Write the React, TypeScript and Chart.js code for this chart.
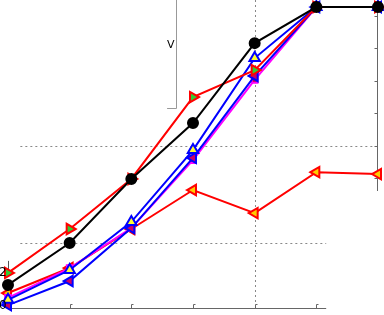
import React, { useEffect, useRef } from "react";
import { Chart, registerables } from "chart.js";

Chart.register(...registerables);

const categories = [0, 1, 2, 3, 4, 5, 6];
const blackSeries = [7.1, 20.0, 39.7, 56.9, 81.5, 92.6, 92.6];
const redGreenSeries = [10.8, 24.3, 39.7, 64.9, 73.2, 92.6, 92.6];
const redYellowSeries = [4.6, 12.3, 24.3, 36.3, 29.2, 41.8, 41.2];
const blueUpSeries = [2.5, 11.7, 26.5, 48.6, 76.9, 92.6, 92.6];
const magentaSeries = [3.1, 12.3, 24.6, 45.5, 70.2, 92.6, 92.6];
const blueLeftSeries = [0.9, 8.3, 24.6, 46.2, 71.4, 92.6, 92.6];
const rightTicks = [40, 50, 60, 70, 80, 90];
const bottomTicks = [1, 2, 3, 4, 5];
const hGrid = [
  { v: 20, to: 5.16 },
  { v: 50, to: 6 },
];
const leftLabels = [
  { text: "2", v: 10.8 },
  { text: "0", v: 0.6 },
];

const pts = (arr: number[]) => arr.map((y, i) => ({ x: categories[i], y }));

const decor = {
  id: "decor",
  beforeDatasetsDraw(chart: any) {
    const { ctx } = chart;
    const xs = chart.scales.x;
    const ys = chart.scales.y;
    const X = (v: number) => xs.getPixelForValue(v);
    const Y = (v: number) => ys.getPixelForValue(v);
    ctx.save();
    // dashed grid
    ctx.strokeStyle = "#888";
    ctx.lineWidth = 1;
    ctx.setLineDash([2, 3]);
    hGrid.forEach((g) => {
      ctx.beginPath();
      ctx.moveTo(X(0.2), Math.round(Y(g.v)) + 0.5);
      ctx.lineTo(X(g.to), Math.round(Y(g.v)) + 0.5);
      ctx.stroke();
    });
    ctx.beginPath();
    ctx.moveTo(Math.round(X(4)) + 0.5, 0);
    ctx.lineTo(Math.round(X(4)) + 0.5, Y(0));
    ctx.stroke();
    ctx.setLineDash([]);
    // bottom axis
    ctx.strokeStyle = "#666";
    const by = Math.round(Y(0)) + 0.5;
    ctx.beginPath();
    ctx.moveTo(X(0), by);
    ctx.lineTo(X(5.16), by);
    ctx.stroke();
    bottomTicks.forEach((t) => {
      const px = Math.round(X(t)) + 0.5;
      ctx.beginPath();
      ctx.moveTo(px, by);
      ctx.lineTo(px, by - 4);
      ctx.lineTo(px + 2, by - 4);
      ctx.stroke();
    });
    // right axis
    const rx = Math.round(X(6)) - 0.5;
    ctx.beginPath();
    ctx.moveTo(rx, 0);
    ctx.lineTo(rx, Y(36));
    ctx.stroke();
    rightTicks.forEach((t) => {
      const py = Math.round(Y(t)) + 0.5;
      ctx.beginPath();
      ctx.moveTo(rx, py);
      ctx.lineTo(rx - 3, py);
      ctx.stroke();
    });
    // partial box
    ctx.strokeStyle = "#999";
    const bx = Math.round(X(2.724)) + 0.5;
    const bty = Math.round(Y(61.5)) + 0.5;
    ctx.beginPath();
    ctx.moveTo(bx, 0);
    ctx.lineTo(bx, bty);
    ctx.lineTo(X(2.58), bty);
    ctx.stroke();
    // left small tick
    ctx.strokeStyle = "#555";
    ctx.beginPath();
    ctx.moveTo(Math.round(X(0)) + 0.5, Y(11));
    ctx.lineTo(Math.round(X(0)) + 0.5, Y(14.5));
    ctx.stroke();
    ctx.fillStyle = "#000";
    ctx.font = "11px 'DejaVu Sans'";
    ctx.textAlign = "center";
    ctx.textBaseline = "middle";
    ctx.fillText("V", X(2.64), Y(80.8));
    ctx.restore();
  },
  afterDatasetsDraw(chart: any) {
    const { ctx } = chart;
    const xs = chart.scales.x;
    const ys = chart.scales.y;
    ctx.save();
    ctx.fillStyle = "#000";
    ctx.font = "12px 'DejaVu Sans'";
    ctx.textAlign = "center";
    ctx.textBaseline = "middle";
    leftLabels.forEach((l) => {
      ctx.fillText(l.text, xs.getPixelForValue(-0.085), ys.getPixelForValue(l.v));
    });
    ctx.restore();
  },
};

export default function App() {
  const ref = useRef<HTMLCanvasElement>(null);
  useEffect(() => {
    document.body.style.margin = "0";
    const ds = (
      label: string,
      data: number[],
      color: string,
      fill: string,
      style: string,
      rotation: number,
      radius: number
    ) => ({
      label,
      data: pts(data),
      borderColor: color,
      backgroundColor: fill,
      borderWidth: 2,
      pointStyle: style,
      rotation,
      pointRadius: radius,
      pointBorderColor: color,
      pointBackgroundColor: fill,
      pointBorderWidth: 2,
      tension: 0,
      clip: false,
    });
    const chart = new Chart(ref.current!, {
      type: "line",
      data: {
        datasets: [
          ds("black", blackSeries, "#000000", "#000000", "circle", 0, 5),
          ds("redGreen", redGreenSeries, "#ff0000", "#33cc33", "triangle", 90, 6),
          ds("blueUp", blueUpSeries, "#0000ff", "#ffff33", "triangle", 0, 6),
          ds("blueLeft", blueLeftSeries, "#0000ff", "#cc0066", "triangle", -90, 6),
          ds("magenta", magentaSeries, "#ff00ff", "#cc0033", "rect", 0, 4),
          ds("redYellow", redYellowSeries, "#ff0000", "#ffcc00", "triangle", -90, 6),
        ] as any,
      },
      options: {
        animation: false,
        responsive: false,
        maintainAspectRatio: false,
        layout: { padding: 0, autoPadding: false },
        plugins: { legend: { display: false }, tooltip: { enabled: false } },
        scales: {
          x: { type: "linear", min: -0.1297, max: 6.0973, display: false },
          y: { type: "linear", min: -2.154, max: 94.77, display: false },
        },
      },
      plugins: [decor],
    });
    return () => chart.destroy();
  }, []);
  return <canvas ref={ref} width={384} height={315} style={{ display: "block" }} />;
}
